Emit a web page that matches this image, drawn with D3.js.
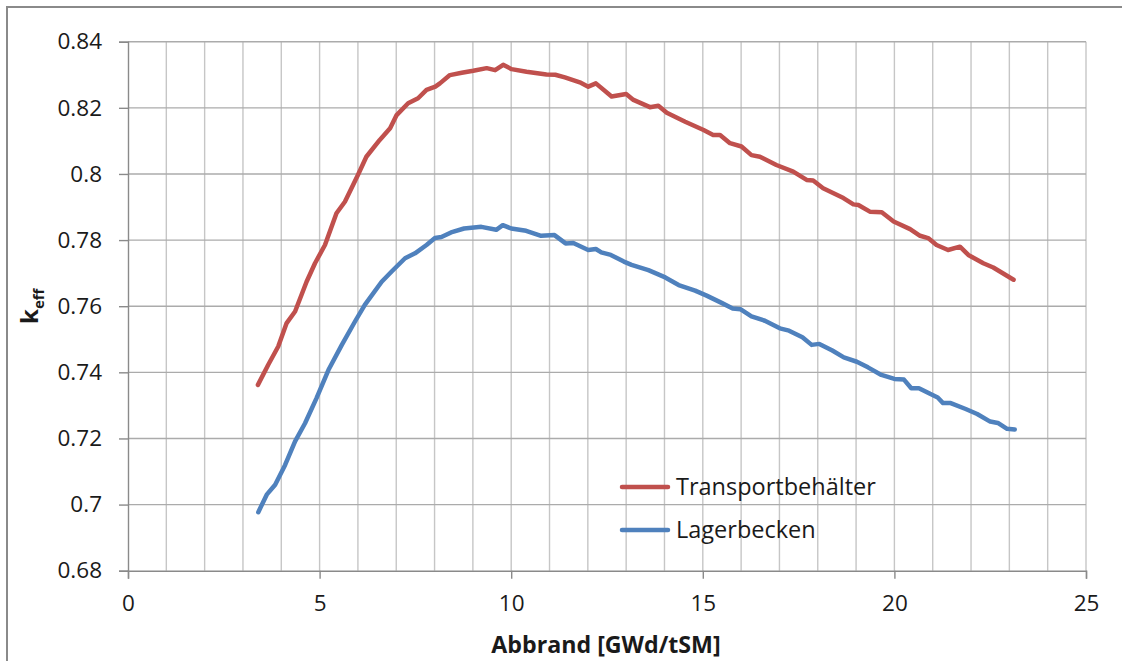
<!DOCTYPE html>
<html>
<head>
<meta charset="utf-8">
<script src="https://cdn.jsdelivr.net/npm/d3@7"></script>
<style>
  html, body { margin: 0; padding: 0; background: #fff; }
  svg { display: block; }
  text { font-family: "Open Sans", "Liberation Sans", sans-serif; fill: #1a1a1a; }
</style>
</head>
<body>
<svg id="chart" width="1122" height="661"></svg>
<script>
// Burnup (GWd/tSM) and k_eff for the transport cask configuration
const transportBurnup = [3.39, 3.66, 3.92, 4.14, 4.36, 4.66, 4.88, 5.14, 5.44, 5.66, 6.00, 6.22, 6.57, 6.84, 7.01, 7.31, 7.57, 7.79, 8.02, 8.14, 8.40, 8.71, 9.01, 9.36, 9.58, 9.79, 10.01, 10.40, 10.92, 11.15, 11.40, 11.79, 12.01, 12.21, 12.62, 13.00, 13.19, 13.62, 13.84, 14.06, 14.54, 15.02, 15.27, 15.45, 15.71, 16.01, 16.27, 16.49, 16.92, 17.36, 17.71, 17.88, 18.14, 18.67, 18.93, 19.06, 19.36, 19.67, 19.98, 20.41, 20.67, 20.88, 21.10, 21.40, 21.71, 21.93, 22.32, 22.58, 23.11];
const transportKeff = [0.7362, 0.7423, 0.7478, 0.7549, 0.7584, 0.7674, 0.7730, 0.7785, 0.7881, 0.7916, 0.7997, 0.8052, 0.8103, 0.8138, 0.8178, 0.8214, 0.8229, 0.8254, 0.8264, 0.8274, 0.8299, 0.8306, 0.8312, 0.8320, 0.8314, 0.8330, 0.8317, 0.8309, 0.8301, 0.8300, 0.8292, 0.8277, 0.8264, 0.8274, 0.8234, 0.8242, 0.8224, 0.8202, 0.8206, 0.8185, 0.8158, 0.8133, 0.8118, 0.8118, 0.8093, 0.8083, 0.8057, 0.8052, 0.8027, 0.8007, 0.7982, 0.7980, 0.7957, 0.7927, 0.7908, 0.7906, 0.7886, 0.7884, 0.7856, 0.7833, 0.7813, 0.7806, 0.7785, 0.7770, 0.7780, 0.7755, 0.7730, 0.7717, 0.7680];

// Burnup (GWd/tSM) and k_eff for the storage pool configuration
const poolBurnup = [3.40, 3.62, 3.84, 4.10, 4.36, 4.62, 4.92, 5.23, 5.58, 5.92, 6.18, 6.62, 6.88, 7.23, 7.49, 7.79, 8.01, 8.18, 8.43, 8.77, 9.22, 9.61, 9.78, 10.00, 10.39, 10.78, 11.13, 11.42, 11.62, 12.01, 12.21, 12.35, 12.60, 12.94, 13.14, 13.58, 14.02, 14.37, 14.80, 15.10, 15.49, 15.78, 15.98, 16.27, 16.62, 17.01, 17.25, 17.60, 17.84, 18.04, 18.38, 18.68, 19.02, 19.31, 19.66, 20.00, 20.25, 20.44, 20.64, 20.93, 21.13, 21.27, 21.47, 21.86, 22.16, 22.50, 22.70, 22.94, 23.14];
const poolKeff = [0.6977, 0.7030, 0.7060, 0.7120, 0.7191, 0.7246, 0.7322, 0.7407, 0.7483, 0.7553, 0.7604, 0.7674, 0.7705, 0.7745, 0.7760, 0.7785, 0.7806, 0.7809, 0.7823, 0.7835, 0.7840, 0.7831, 0.7845, 0.7835, 0.7828, 0.7813, 0.7815, 0.7790, 0.7791, 0.7770, 0.7773, 0.7763, 0.7755, 0.7735, 0.7725, 0.7709, 0.7687, 0.7664, 0.7647, 0.7632, 0.7610, 0.7593, 0.7591, 0.7569, 0.7556, 0.7533, 0.7526, 0.7506, 0.7483, 0.7486, 0.7466, 0.7445, 0.7432, 0.7415, 0.7392, 0.7380, 0.7378, 0.7352, 0.7352, 0.7335, 0.7324, 0.7307, 0.7307, 0.7289, 0.7274, 0.7251, 0.7247, 0.7229, 0.7227];

const seriesNames = ["Transportbehälter", "Lagerbecken"];
const seriesColors = ["#C0504D", "#4F81BD"];

const xTicks = [0, 5, 10, 15, 20, 25];
const yTicks = [0.68, 0.70, 0.72, 0.74, 0.76, 0.78, 0.80, 0.82, 0.84];
const xTitle = "Abbrand [GWd/tSM]";

const svg = d3.select("#chart");
const W = 1122, H = 661;
const plot = { left: 128, right: 1086, top: 41.7, bottom: 570.7 };

const x = d3.scaleLinear().domain([0, 25]).range([plot.left, plot.right]);
const y = d3.scaleLinear().domain([0.68, 0.84]).range([plot.bottom, plot.top]);

// outer chart frame (top and left edges)
svg.append("path")
  .attr("d", `M7,${H + 5} L7,7 L${W + 5},7`)
  .attr("fill", "none")
  .attr("stroke", "#8a8a8a")
  .attr("stroke-width", 2);

// vertical gridlines every 1 GWd/tSM
const grid = svg.append("g");
grid.selectAll("line.v")
  .data(d3.range(1, 26))
  .join("line")
  .attr("class", "v")
  .attr("x1", d => x(d)).attr("x2", d => x(d))
  .attr("y1", plot.top).attr("y2", plot.bottom)
  .attr("stroke", "#c6c6c6")
  .attr("stroke-width", 1.4);

// horizontal gridlines
grid.selectAll("line.h")
  .data(yTicks.slice(1))
  .join("line")
  .attr("class", "h")
  .attr("x1", plot.left).attr("x2", plot.right)
  .attr("y1", d => y(d)).attr("y2", d => y(d))
  .attr("stroke", "#ababab")
  .attr("stroke-width", 1.4);

// axes
const yAxis = d3.axisLeft(y)
  .tickValues(yTicks)
  .tickSize(9)
  .tickPadding(17)
  .tickFormat(d => d3.format("")(+d.toFixed(2)));
const gy = svg.append("g")
  .attr("transform", `translate(${plot.left},0)`)
  .call(yAxis);
gy.select(".domain").attr("stroke", "#8a8a8a").attr("stroke-width", 1.4);
gy.selectAll(".tick line").attr("stroke", "#8a8a8a").attr("stroke-width", 1.4);
gy.selectAll(".tick text")
  .attr("font-family", "'Open Sans', 'Liberation Sans', sans-serif")
  .attr("font-size", 22.5)
  .attr("fill", "#1a1a1a");

const xAxis = d3.axisBottom(x)
  .tickValues(xTicks)
  .tickSize(8)
  .tickPadding(16)
  .tickFormat(d3.format("d"));
const gx = svg.append("g")
  .attr("transform", `translate(0,${plot.bottom})`)
  .call(xAxis);
gx.select(".domain").attr("stroke", "#8a8a8a").attr("stroke-width", 1.4);
gx.selectAll(".tick line").attr("stroke", "#8a8a8a").attr("stroke-width", 1.4);
gx.selectAll(".tick text")
  .attr("font-family", "'Open Sans', 'Liberation Sans', sans-serif")
  .attr("font-size", 22.5)
  .attr("fill", "#1a1a1a");

// curves
const series = [
  transportBurnup.map((b, i) => [b, transportKeff[i]]),
  poolBurnup.map((b, i) => [b, poolKeff[i]])
];
const line = d3.line().x(d => x(d[0])).y(d => y(d[1]));
svg.append("g").selectAll("path")
  .data(series)
  .join("path")
  .attr("d", line)
  .attr("fill", "none")
  .attr("stroke", (d, i) => seriesColors[i])
  .attr("stroke-width", 4.5)
  .attr("stroke-linejoin", "round")
  .attr("stroke-linecap", "round");

// legend
const legend = svg.append("g").attr("transform", "translate(622,487)");
const items = legend.selectAll("g")
  .data(seriesNames)
  .join("g")
  .attr("transform", (d, i) => `translate(0,${i * 43})`);
items.append("line")
  .attr("x1", 0).attr("x2", 46)
  .attr("y1", 0).attr("y2", 0)
  .attr("stroke", (d, i) => seriesColors[i])
  .attr("stroke-width", 4.5)
  .attr("stroke-linecap", "round");
items.append("text")
  .attr("x", 54)
  .attr("y", 8)
  .attr("font-size", 23.5)
  .text(d => d);

// axis titles
svg.append("text")
  .attr("x", 606)
  .attr("y", 653)
  .attr("text-anchor", "middle")
  .attr("font-weight", "bold")
  .attr("font-size", 23.2)
  .text(xTitle);

const yTitle = svg.append("text")
  .attr("transform", `translate(38,${(plot.top + plot.bottom) / 2}) rotate(-90)`)
  .attr("text-anchor", "middle")
  .attr("font-weight", "bold")
  .attr("font-size", 24);
yTitle.append("tspan").text("k");
yTitle.append("tspan")
  .attr("font-size", 15)
  .attr("dy", 6)
  .text("eff");
</script>
</body>
</html>
